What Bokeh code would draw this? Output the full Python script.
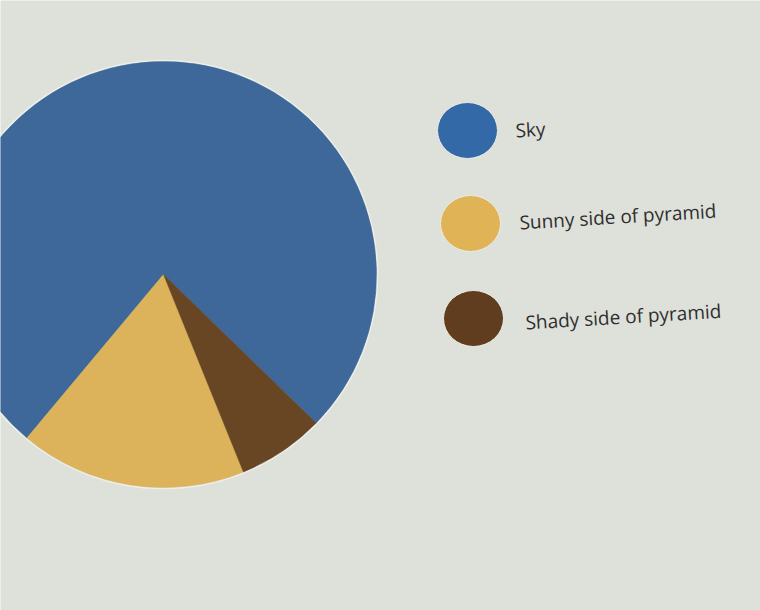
import math
import numpy as np
from bokeh.plotting import figure
from bokeh.models import Range1d, ColumnDataSource
from bokeh.core.properties import value
from bokeh.embed import file_html
from bokeh.resources import INLINE

# ---- data ----
categories = ["Sky", "Sunny side of pyramid", "Shady side of pyramid"]
shares = [76.2, 17.2, 6.6]
pie_colors = ["#3E6899", "#DCB25A", "#694623"]
legend_colors = ["#3469A8", "#E0B456", "#603D1F"]

# ---- layout (pixel-like data units) ----
W, H = 760, 610
BG = "#DEE0DA"
cx, cy = 163, H - 274
R = 213
start_deg = -44.2

p = figure(width=W, height=H, output_backend="svg", toolbar_location=None,
           x_range=Range1d(0, W), y_range=Range1d(0, H),
           min_border=0, background_fill_color=BG, border_fill_color=BG)
p.axis.visible = False
p.grid.visible = False
p.outline_line_color = None

total = sum(shares)
angles = np.array(shares) / total * 2 * math.pi
ends = np.cumsum(angles) + math.radians(start_deg)
starts = ends - angles
src = ColumnDataSource(dict(start=starts, end=ends, color=pie_colors, cat=categories))

# faint paper rim around the pie
p.circle(x=[cx], y=[cy], radius=R + 1, fill_color=None,
         line_color="#EDEFEA", line_width=1.5)
p.wedge(x=cx, y=cy, radius=R, start_angle="start", end_angle="end",
        fill_color="color", line_color="color", line_width=0.5, source=src)

# legend swatches and labels
sw_x = [467, 470, 473]
sw_y = [H - 130, H - 223, H - 318]
lab_x = [515, 519, 525]
lab_y = [H - 130, H - 222, H - 322]
leg = ColumnDataSource(dict(x=sw_x, y=sw_y, c=legend_colors,
                            tx=lab_x, ty=lab_y, t=categories))
p.ellipse(x="x", y="y", width=60, height=56, fill_color="c",
          line_color="#EAEBE4", line_width=1, source=leg)
p.text(x="tx", y="ty", text="t", angle=0.06, text_font=value("Open Sans"),
       text_font_size="19px", text_color="#2E2E2E", text_align="left",
       text_baseline="alphabetic", source=leg)

open("out.html", "w").write(file_html(p, INLINE))
